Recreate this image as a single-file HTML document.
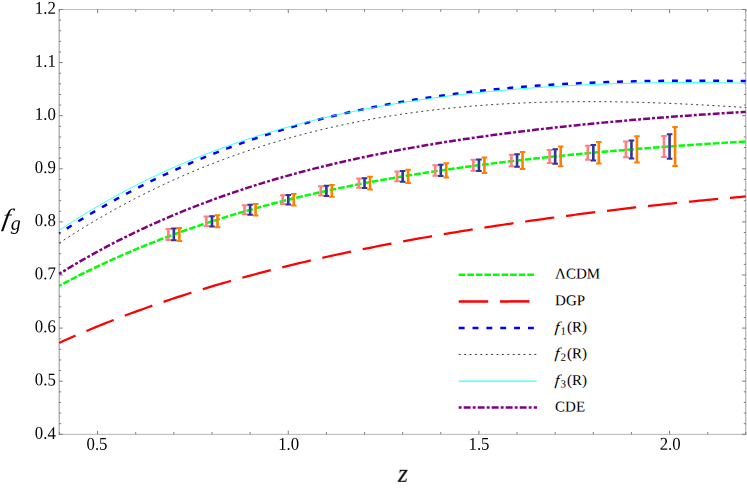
<!DOCTYPE html>
<html><head><meta charset="utf-8"><title>Growth rate f_g vs z</title>
<style>html,body{margin:0;padding:0;background:#fff}body{width:747px;height:489px;overflow:hidden;font-family:"Liberation Serif",serif}svg{display:block}</style>
</head><body>
<svg width="747" height="489" viewBox="0 0 747 489">
<rect width="747" height="489" fill="#fff"/>
<defs><clipPath id="c"><rect x="58.35" y="9.5" width="688.25" height="424.86"/></clipPath></defs>
<g stroke-width="1" fill="none">
<path d="M59.15,9.0V434.86" stroke="#919191"/>
<path d="M745.8,9.0V434.86" stroke="#a0a0a0"/>
<path d="M58.65,9.5H746.3" stroke="#bcbcbc"/>
<path d="M58.65,434.36H746.3" stroke="#b6b6b6"/>
<path d="M59.45,434.36v-2.3M59.45,9.5v2.3M97.58,434.36v-3.6M97.58,9.5v3.6M135.72,434.36v-2.3M135.72,9.5v2.3M173.85,434.36v-2.3M173.85,9.5v2.3M211.98,434.36v-2.3M211.98,9.5v2.3M250.12,434.36v-2.3M250.12,9.5v2.3M288.25,434.36v-3.6M288.25,9.5v3.6M326.38,434.36v-2.3M326.38,9.5v2.3M364.52,434.36v-2.3M364.52,9.5v2.3M402.65,434.36v-2.3M402.65,9.5v2.3M440.78,434.36v-2.3M440.78,9.5v2.3M478.92,434.36v-3.6M478.92,9.5v3.6M517.05,434.36v-2.3M517.05,9.5v2.3M555.18,434.36v-2.3M555.18,9.5v2.3M593.32,434.36v-2.3M593.32,9.5v2.3M631.45,434.36v-2.3M631.45,9.5v2.3M669.58,434.36v-3.6M669.58,9.5v3.6M707.72,434.36v-2.3M707.72,9.5v2.3M745.85,434.36v-2.3M745.85,9.5v2.3M59.15,434.30h3.7M745.8,434.30h-3.7M59.15,423.68h2.0M745.8,423.68h-2.0M59.15,413.06h2.0M745.8,413.06h-2.0M59.15,402.44h2.0M745.8,402.44h-2.0M59.15,391.82h2.0M745.8,391.82h-2.0M59.15,381.20h3.7M745.8,381.20h-3.7M59.15,370.58h2.0M745.8,370.58h-2.0M59.15,359.96h2.0M745.8,359.96h-2.0M59.15,349.34h2.0M745.8,349.34h-2.0M59.15,338.72h2.0M745.8,338.72h-2.0M59.15,328.10h3.7M745.8,328.10h-3.7M59.15,317.48h2.0M745.8,317.48h-2.0M59.15,306.86h2.0M745.8,306.86h-2.0M59.15,296.24h2.0M745.8,296.24h-2.0M59.15,285.62h2.0M745.8,285.62h-2.0M59.15,275.00h3.7M745.8,275.00h-3.7M59.15,264.38h2.0M745.8,264.38h-2.0M59.15,253.76h2.0M745.8,253.76h-2.0M59.15,243.14h2.0M745.8,243.14h-2.0M59.15,232.52h2.0M745.8,232.52h-2.0M59.15,221.90h3.7M745.8,221.90h-3.7M59.15,211.28h2.0M745.8,211.28h-2.0M59.15,200.66h2.0M745.8,200.66h-2.0M59.15,190.04h2.0M745.8,190.04h-2.0M59.15,179.42h2.0M745.8,179.42h-2.0M59.15,168.80h3.7M745.8,168.80h-3.7M59.15,158.18h2.0M745.8,158.18h-2.0M59.15,147.56h2.0M745.8,147.56h-2.0M59.15,136.94h2.0M745.8,136.94h-2.0M59.15,126.32h2.0M745.8,126.32h-2.0M59.15,115.70h3.7M745.8,115.70h-3.7M59.15,105.08h2.0M745.8,105.08h-2.0M59.15,94.46h2.0M745.8,94.46h-2.0M59.15,83.84h2.0M745.8,83.84h-2.0M59.15,73.22h2.0M745.8,73.22h-2.0M59.15,62.60h3.7M745.8,62.60h-3.7M59.15,51.98h2.0M745.8,51.98h-2.0M59.15,41.36h2.0M745.8,41.36h-2.0M59.15,30.74h2.0M745.8,30.74h-2.0M59.15,20.12h2.0M745.8,20.12h-2.0M59.15,9.50h3.7M745.8,9.50h-3.7" stroke="#7a7a7a"/>
</g>
<g clip-path="url(#c)" fill="none">
<path d="M59.15,285.86 L63.15,283.72 L67.15,281.61 L71.15,279.52 L75.15,277.47 L79.15,275.43 L83.15,273.43 L87.15,271.45 L91.15,269.50 L95.15,267.57 L99.15,265.67 L103.15,263.79 L107.15,261.93 L111.15,260.11 L115.15,258.30 L119.15,256.52 L123.15,254.77 L127.15,253.03 L131.15,251.32 L135.15,249.64 L139.15,247.97 L143.15,246.33 L147.15,244.71 L151.15,243.11 L155.15,241.53 L159.15,239.98 L163.15,238.44 L167.15,236.93 L171.15,235.43 L175.15,233.96 L179.15,232.51 L183.15,231.07 L187.15,229.66 L191.15,228.27 L195.15,226.89 L199.15,225.53 L203.15,224.20 L207.15,222.88 L211.15,221.57 L215.15,220.29 L219.15,219.02 L223.15,217.78 L227.15,216.54 L231.15,215.33 L235.15,214.13 L239.15,212.95 L243.15,211.79 L247.15,210.64 L251.15,209.50 L255.15,208.39 L259.15,207.29 L263.15,206.20 L267.15,205.13 L271.15,204.07 L275.15,203.03 L279.15,202.00 L283.15,200.99 L287.15,199.99 L291.15,199.00 L295.15,198.03 L299.15,197.07 L303.15,196.13 L307.15,195.20 L311.15,194.28 L315.15,193.37 L319.15,192.48 L323.15,191.60 L327.15,190.73 L331.15,189.87 L335.15,189.03 L339.15,188.19 L343.15,187.37 L347.15,186.56 L351.15,185.76 L355.15,184.97 L359.15,184.19 L363.15,183.43 L367.15,182.67 L371.15,181.92 L375.15,181.19 L379.15,180.46 L383.15,179.75 L387.15,179.04 L391.15,178.34 L395.15,177.66 L399.15,176.98 L403.15,176.31 L407.15,175.65 L411.15,175.00 L415.15,174.35 L419.15,173.72 L423.15,173.09 L427.15,172.48 L431.15,171.87 L435.15,171.27 L439.15,170.67 L443.15,170.09 L447.15,169.51 L451.15,168.94 L455.15,168.38 L459.15,167.82 L463.15,167.27 L467.15,166.73 L471.15,166.20 L475.15,165.67 L479.15,165.15 L483.15,164.63 L487.15,164.12 L491.15,163.62 L495.15,163.13 L499.15,162.64 L503.15,162.16 L507.15,161.68 L511.15,161.21 L515.15,160.74 L519.15,160.28 L523.15,159.83 L527.15,159.38 L531.15,158.94 L535.15,158.50 L539.15,158.07 L543.15,157.64 L547.15,157.22 L551.15,156.80 L555.15,156.39 L559.15,155.99 L563.15,155.58 L567.15,155.19 L571.15,154.79 L575.15,154.41 L579.15,154.02 L583.15,153.64 L587.15,153.27 L591.15,152.90 L595.15,152.53 L599.15,152.17 L603.15,151.82 L607.15,151.46 L611.15,151.11 L615.15,150.77 L619.15,150.43 L623.15,150.09 L627.15,149.76 L631.15,149.43 L635.15,149.10 L639.15,148.78 L643.15,148.46 L647.15,148.15 L651.15,147.84 L655.15,147.53 L659.15,147.23 L663.15,146.93 L667.15,146.64 L671.15,146.34 L675.15,146.05 L679.15,145.77 L683.15,145.49 L687.15,145.21 L691.15,144.94 L695.15,144.66 L699.15,144.40 L703.15,144.13 L707.15,143.87 L711.15,143.62 L715.15,143.36 L719.15,143.11 L723.15,142.86 L727.15,142.62 L731.15,142.38 L735.15,142.14 L739.15,141.91 L743.15,141.68 L745.80,141.53" stroke="#00ff00" stroke-width="2.4" stroke-dasharray="6.6 1.984" stroke-dashoffset="3.84"/>
<path d="M59.15,342.91 L63.15,341.10 L67.15,339.32 L71.15,337.56 L75.15,335.81 L79.15,334.09 L83.15,332.38 L87.15,330.69 L91.15,329.02 L95.15,327.37 L99.15,325.74 L103.15,324.13 L107.15,322.53 L111.15,320.95 L115.15,319.39 L119.15,317.85 L123.15,316.32 L127.15,314.81 L131.15,313.32 L135.15,311.84 L139.15,310.38 L143.15,308.94 L147.15,307.51 L151.15,306.09 L155.15,304.69 L159.15,303.31 L163.15,301.94 L167.15,300.59 L171.15,299.25 L175.15,297.93 L179.15,296.62 L183.15,295.33 L187.15,294.04 L191.15,292.78 L195.15,291.52 L199.15,290.28 L203.15,289.06 L207.15,287.84 L211.15,286.64 L215.15,285.45 L219.15,284.28 L223.15,283.12 L227.15,281.97 L231.15,280.83 L235.15,279.70 L239.15,278.59 L243.15,277.48 L247.15,276.39 L251.15,275.31 L255.15,274.24 L259.15,273.19 L263.15,272.14 L267.15,271.10 L271.15,270.08 L275.15,269.06 L279.15,268.06 L283.15,267.07 L287.15,266.08 L291.15,265.11 L295.15,264.15 L299.15,263.19 L303.15,262.25 L307.15,261.31 L311.15,260.38 L315.15,259.47 L319.15,258.56 L323.15,257.66 L327.15,256.77 L331.15,255.89 L335.15,255.02 L339.15,254.15 L343.15,253.30 L347.15,252.45 L351.15,251.61 L355.15,250.78 L359.15,249.95 L363.15,249.14 L367.15,248.33 L371.15,247.53 L375.15,246.73 L379.15,245.95 L383.15,245.17 L387.15,244.40 L391.15,243.63 L395.15,242.88 L399.15,242.13 L403.15,241.38 L407.15,240.65 L411.15,239.91 L415.15,239.19 L419.15,238.47 L423.15,237.76 L427.15,237.06 L431.15,236.36 L435.15,235.67 L439.15,234.98 L443.15,234.30 L447.15,233.62 L451.15,232.95 L455.15,232.29 L459.15,231.63 L463.15,230.98 L467.15,230.33 L471.15,229.69 L475.15,229.06 L479.15,228.43 L483.15,227.80 L487.15,227.18 L491.15,226.57 L495.15,225.96 L499.15,225.35 L503.15,224.75 L507.15,224.16 L511.15,223.57 L515.15,222.98 L519.15,222.40 L523.15,221.83 L527.15,221.26 L531.15,220.69 L535.15,220.13 L539.15,219.57 L543.15,219.02 L547.15,218.47 L551.15,217.92 L555.15,217.38 L559.15,216.85 L563.15,216.32 L567.15,215.79 L571.15,215.27 L575.15,214.75 L579.15,214.24 L583.15,213.73 L587.15,213.22 L591.15,212.72 L595.15,212.23 L599.15,211.73 L603.15,211.24 L607.15,210.76 L611.15,210.28 L615.15,209.80 L619.15,209.33 L623.15,208.86 L627.15,208.40 L631.15,207.94 L635.15,207.48 L639.15,207.03 L643.15,206.58 L647.15,206.14 L651.15,205.69 L655.15,205.26 L659.15,204.83 L663.15,204.40 L667.15,203.97 L671.15,203.55 L675.15,203.14 L679.15,202.73 L683.15,202.32 L687.15,201.92 L691.15,201.52 L695.15,201.12 L699.15,200.73 L703.15,200.34 L707.15,199.96 L711.15,199.58 L715.15,199.21 L719.15,198.84 L723.15,198.47 L727.15,198.11 L731.15,197.76 L735.15,197.41 L739.15,197.06 L743.15,196.71 L745.80,196.49" stroke="#ff0000" stroke-width="2.25" stroke-dasharray="29.35 11.875" stroke-dashoffset="11.45"/>
<path d="M59.15,233.49 L63.15,230.90 L67.15,228.33 L71.15,225.79 L75.15,223.28 L79.15,220.80 L83.15,218.36 L87.15,215.94 L91.15,213.55 L95.15,211.19 L99.15,208.87 L103.15,206.57 L107.15,204.29 L111.15,202.05 L115.15,199.84 L119.15,197.65 L123.15,195.49 L127.15,193.36 L131.15,191.26 L135.15,189.18 L139.15,187.13 L143.15,185.11 L147.15,183.11 L151.15,181.14 L155.15,179.20 L159.15,177.28 L163.15,175.39 L167.15,173.52 L171.15,171.68 L175.15,169.87 L179.15,168.08 L183.15,166.31 L187.15,164.57 L191.15,162.85 L195.15,161.16 L199.15,159.49 L203.15,157.84 L207.15,156.22 L211.15,154.62 L215.15,153.05 L219.15,151.49 L223.15,149.96 L227.15,148.45 L231.15,146.97 L235.15,145.51 L239.15,144.07 L243.15,142.65 L247.15,141.25 L251.15,139.87 L255.15,138.52 L259.15,137.18 L263.15,135.87 L267.15,134.58 L271.15,133.30 L275.15,132.05 L279.15,130.82 L283.15,129.61 L287.15,128.42 L291.15,127.24 L295.15,126.09 L299.15,124.95 L303.15,123.84 L307.15,122.74 L311.15,121.66 L315.15,120.60 L319.15,119.56 L323.15,118.54 L327.15,117.53 L331.15,116.55 L335.15,115.58 L339.15,114.62 L343.15,113.69 L347.15,112.77 L351.15,111.87 L355.15,110.98 L359.15,110.12 L363.15,109.26 L367.15,108.43 L371.15,107.61 L375.15,106.80 L379.15,106.02 L383.15,105.24 L387.15,104.49 L391.15,103.74 L395.15,103.02 L399.15,102.31 L403.15,101.61 L407.15,100.93 L411.15,100.26 L415.15,99.60 L419.15,98.96 L423.15,98.34 L427.15,97.72 L431.15,97.13 L435.15,96.54 L439.15,95.97 L443.15,95.41 L447.15,94.86 L451.15,94.33 L455.15,93.81 L459.15,93.30 L463.15,92.81 L467.15,92.33 L471.15,91.86 L475.15,91.40 L479.15,90.95 L483.15,90.52 L487.15,90.09 L491.15,89.68 L495.15,89.28 L499.15,88.89 L503.15,88.51 L507.15,88.14 L511.15,87.78 L515.15,87.44 L519.15,87.10 L523.15,86.78 L527.15,86.46 L531.15,86.15 L535.15,85.86 L539.15,85.57 L543.15,85.30 L547.15,85.03 L551.15,84.77 L555.15,84.52 L559.15,84.28 L563.15,84.05 L567.15,83.83 L571.15,83.62 L575.15,83.41 L579.15,83.22 L583.15,83.03 L587.15,82.85 L591.15,82.68 L595.15,82.52 L599.15,82.36 L603.15,82.21 L607.15,82.07 L611.15,81.94 L615.15,81.81 L619.15,81.70 L623.15,81.59 L627.15,81.48 L631.15,81.39 L635.15,81.29 L639.15,81.21 L643.15,81.13 L647.15,81.06 L651.15,81.00 L655.15,80.94 L659.15,80.89 L663.15,80.84 L667.15,80.80 L671.15,80.77 L675.15,80.74 L679.15,80.72 L683.15,80.70 L687.15,80.69 L691.15,80.68 L695.15,80.68 L699.15,80.68 L703.15,80.69 L707.15,80.71 L711.15,80.72 L715.15,80.75 L719.15,80.77 L723.15,80.81 L727.15,80.84 L731.15,80.88 L735.15,80.93 L739.15,80.97 L743.15,81.03 L745.80,81.06" stroke="#0000ff" stroke-width="2.5" stroke-dasharray="5.9 7.84" stroke-dashoffset="4.75"/>
<path d="M59.15,243.09 L63.15,240.47 L67.15,237.88 L71.15,235.33 L75.15,232.80 L79.15,230.31 L83.15,227.85 L87.15,225.41 L91.15,223.01 L95.15,220.64 L99.15,218.30 L103.15,215.99 L107.15,213.70 L111.15,211.45 L115.15,209.23 L119.15,207.03 L123.15,204.87 L127.15,202.73 L131.15,200.62 L135.15,198.54 L139.15,196.49 L143.15,194.46 L147.15,192.47 L151.15,190.50 L155.15,188.56 L159.15,186.64 L163.15,184.76 L167.15,182.89 L171.15,181.06 L175.15,179.25 L179.15,177.47 L183.15,175.72 L187.15,173.99 L191.15,172.28 L195.15,170.60 L199.15,168.95 L203.15,167.32 L207.15,165.72 L211.15,164.14 L215.15,162.59 L219.15,161.06 L223.15,159.55 L227.15,158.07 L231.15,156.61 L235.15,155.18 L239.15,153.77 L243.15,152.38 L247.15,151.02 L251.15,149.68 L255.15,148.36 L259.15,147.06 L263.15,145.79 L267.15,144.54 L271.15,143.31 L275.15,142.10 L279.15,140.92 L283.15,139.76 L287.15,138.61 L291.15,137.49 L295.15,136.39 L299.15,135.31 L303.15,134.25 L307.15,133.21 L311.15,132.20 L315.15,131.20 L319.15,130.22 L323.15,129.26 L327.15,128.32 L331.15,127.40 L335.15,126.50 L339.15,125.62 L343.15,124.76 L347.15,123.92 L351.15,123.09 L355.15,122.29 L359.15,121.50 L363.15,120.73 L367.15,119.98 L371.15,119.24 L375.15,118.53 L379.15,117.83 L383.15,117.15 L387.15,116.48 L391.15,115.84 L395.15,115.21 L399.15,114.59 L403.15,113.99 L407.15,113.41 L411.15,112.85 L415.15,112.30 L419.15,111.77 L423.15,111.25 L427.15,110.75 L431.15,110.26 L435.15,109.79 L439.15,109.33 L443.15,108.89 L447.15,108.46 L451.15,108.05 L455.15,107.65 L459.15,107.27 L463.15,106.90 L467.15,106.54 L471.15,106.20 L475.15,105.87 L479.15,105.56 L483.15,105.26 L487.15,104.97 L491.15,104.69 L495.15,104.43 L499.15,104.18 L503.15,103.95 L507.15,103.72 L511.15,103.51 L515.15,103.31 L519.15,103.12 L523.15,102.95 L527.15,102.78 L531.15,102.63 L535.15,102.49 L539.15,102.36 L543.15,102.24 L547.15,102.13 L551.15,102.03 L555.15,101.95 L559.15,101.87 L563.15,101.80 L567.15,101.75 L571.15,101.70 L575.15,101.67 L579.15,101.64 L583.15,101.63 L587.15,101.62 L591.15,101.62 L595.15,101.63 L599.15,101.66 L603.15,101.69 L607.15,101.72 L611.15,101.77 L615.15,101.83 L619.15,101.89 L623.15,101.97 L627.15,102.05 L631.15,102.14 L635.15,102.23 L639.15,102.34 L643.15,102.45 L647.15,102.57 L651.15,102.70 L655.15,102.83 L659.15,102.98 L663.15,103.12 L667.15,103.28 L671.15,103.44 L675.15,103.61 L679.15,103.79 L683.15,103.97 L687.15,104.16 L691.15,104.35 L695.15,104.55 L699.15,104.75 L703.15,104.96 L707.15,105.18 L711.15,105.40 L715.15,105.63 L719.15,105.86 L723.15,106.10 L727.15,106.34 L731.15,106.59 L735.15,106.84 L739.15,107.10 L743.15,107.36 L745.80,107.53" stroke="#1a1a1a" stroke-width="0.85" stroke-dasharray="2 3.4"/>
<path d="M59.15,230.43 L63.15,227.77 L67.15,225.14 L71.15,222.55 L75.15,220.00 L79.15,217.48 L83.15,214.99 L87.15,212.55 L91.15,210.13 L95.15,207.75 L99.15,205.41 L103.15,203.10 L107.15,200.82 L111.15,198.57 L115.15,196.36 L119.15,194.18 L123.15,192.03 L127.15,189.91 L131.15,187.82 L135.15,185.76 L139.15,183.74 L143.15,181.74 L147.15,179.77 L151.15,177.84 L155.15,175.93 L159.15,174.05 L163.15,172.20 L167.15,170.38 L171.15,168.58 L175.15,166.81 L179.15,165.07 L183.15,163.36 L187.15,161.67 L191.15,160.01 L195.15,158.38 L199.15,156.77 L203.15,155.19 L207.15,153.63 L211.15,152.09 L215.15,150.58 L219.15,149.10 L223.15,147.64 L227.15,146.20 L231.15,144.79 L235.15,143.40 L239.15,142.03 L243.15,140.68 L247.15,139.36 L251.15,138.06 L255.15,136.78 L259.15,135.52 L263.15,134.28 L267.15,133.06 L271.15,131.87 L275.15,130.69 L279.15,129.54 L283.15,128.40 L287.15,127.29 L291.15,126.19 L295.15,125.11 L299.15,124.06 L303.15,123.02 L307.15,122.00 L311.15,120.99 L315.15,120.01 L319.15,119.04 L323.15,118.09 L327.15,117.16 L331.15,116.24 L335.15,115.35 L339.15,114.46 L343.15,113.60 L347.15,112.75 L351.15,111.92 L355.15,111.10 L359.15,110.30 L363.15,109.51 L367.15,108.74 L371.15,107.98 L375.15,107.24 L379.15,106.51 L383.15,105.80 L387.15,105.10 L391.15,104.42 L395.15,103.75 L399.15,103.09 L403.15,102.45 L407.15,101.82 L411.15,101.20 L415.15,100.60 L419.15,100.01 L423.15,99.43 L427.15,98.86 L431.15,98.31 L435.15,97.76 L439.15,97.23 L443.15,96.72 L447.15,96.21 L451.15,95.71 L455.15,95.23 L459.15,94.76 L463.15,94.30 L467.15,93.85 L471.15,93.40 L475.15,92.98 L479.15,92.56 L483.15,92.15 L487.15,91.75 L491.15,91.36 L495.15,90.98 L499.15,90.61 L503.15,90.25 L507.15,89.90 L511.15,89.56 L515.15,89.23 L519.15,88.91 L523.15,88.60 L527.15,88.30 L531.15,88.00 L535.15,87.71 L539.15,87.44 L543.15,87.17 L547.15,86.91 L551.15,86.66 L555.15,86.41 L559.15,86.18 L563.15,85.95 L567.15,85.73 L571.15,85.52 L575.15,85.32 L579.15,85.12 L583.15,84.93 L587.15,84.75 L591.15,84.58 L595.15,84.42 L599.15,84.26 L603.15,84.11 L607.15,83.96 L611.15,83.83 L615.15,83.70 L619.15,83.58 L623.15,83.46 L627.15,83.36 L631.15,83.26 L635.15,83.16 L639.15,83.08 L643.15,83.00 L647.15,82.92 L651.15,82.86 L655.15,82.80 L659.15,82.74 L663.15,82.70 L667.15,82.66 L671.15,82.62 L675.15,82.60 L679.15,82.58 L683.15,82.56 L687.15,82.56 L691.15,82.56 L695.15,82.56 L699.15,82.58 L703.15,82.60 L707.15,82.62 L711.15,82.65 L715.15,82.69 L719.15,82.74 L723.15,82.79 L727.15,82.85 L731.15,82.91 L735.15,82.98 L739.15,83.06 L743.15,83.14 L745.80,83.20" stroke="#00ffff" stroke-width="0.78"/>
<path d="M59.15,273.88 L63.15,271.42 L67.15,269.00 L71.15,266.60 L75.15,264.24 L79.15,261.91 L83.15,259.61 L87.15,257.34 L91.15,255.10 L95.15,252.89 L99.15,250.71 L103.15,248.56 L107.15,246.43 L111.15,244.34 L115.15,242.27 L119.15,240.23 L123.15,238.22 L127.15,236.24 L131.15,234.28 L135.15,232.35 L139.15,230.45 L143.15,228.57 L147.15,226.72 L151.15,224.89 L155.15,223.09 L159.15,221.31 L163.15,219.56 L167.15,217.83 L171.15,216.13 L175.15,214.45 L179.15,212.79 L183.15,211.15 L187.15,209.54 L191.15,207.95 L195.15,206.39 L199.15,204.84 L203.15,203.32 L207.15,201.81 L211.15,200.33 L215.15,198.87 L219.15,197.43 L223.15,196.01 L227.15,194.62 L231.15,193.24 L235.15,191.88 L239.15,190.54 L243.15,189.21 L247.15,187.91 L251.15,186.63 L255.15,185.36 L259.15,184.11 L263.15,182.88 L267.15,181.67 L271.15,180.48 L275.15,179.30 L279.15,178.14 L283.15,176.99 L287.15,175.86 L291.15,174.75 L295.15,173.66 L299.15,172.57 L303.15,171.51 L307.15,170.46 L311.15,169.43 L315.15,168.41 L319.15,167.40 L323.15,166.41 L327.15,165.43 L331.15,164.47 L335.15,163.52 L339.15,162.59 L343.15,161.67 L347.15,160.76 L351.15,159.86 L355.15,158.98 L359.15,158.11 L363.15,157.25 L367.15,156.41 L371.15,155.58 L375.15,154.75 L379.15,153.95 L383.15,153.15 L387.15,152.36 L391.15,151.59 L395.15,150.82 L399.15,150.07 L403.15,149.32 L407.15,148.59 L411.15,147.87 L415.15,147.16 L419.15,146.46 L423.15,145.76 L427.15,145.08 L431.15,144.41 L435.15,143.74 L439.15,143.09 L443.15,142.44 L447.15,141.81 L451.15,141.18 L455.15,140.56 L459.15,139.95 L463.15,139.35 L467.15,138.76 L471.15,138.17 L475.15,137.59 L479.15,137.02 L483.15,136.46 L487.15,135.90 L491.15,135.36 L495.15,134.82 L499.15,134.29 L503.15,133.76 L507.15,133.24 L511.15,132.73 L515.15,132.22 L519.15,131.73 L523.15,131.23 L527.15,130.75 L531.15,130.27 L535.15,129.80 L539.15,129.33 L543.15,128.87 L547.15,128.42 L551.15,127.97 L555.15,127.52 L559.15,127.09 L563.15,126.66 L567.15,126.23 L571.15,125.81 L575.15,125.39 L579.15,124.98 L583.15,124.58 L587.15,124.18 L591.15,123.78 L595.15,123.39 L599.15,123.01 L603.15,122.63 L607.15,122.25 L611.15,121.88 L615.15,121.52 L619.15,121.16 L623.15,120.80 L627.15,120.45 L631.15,120.10 L635.15,119.76 L639.15,119.42 L643.15,119.08 L647.15,118.75 L651.15,118.43 L655.15,118.10 L659.15,117.79 L663.15,117.47 L667.15,117.16 L671.15,116.86 L675.15,116.56 L679.15,116.26 L683.15,115.97 L687.15,115.68 L691.15,115.39 L695.15,115.11 L699.15,114.83 L703.15,114.56 L707.15,114.29 L711.15,114.02 L715.15,113.76 L719.15,113.50 L723.15,113.25 L727.15,113.00 L731.15,112.75 L735.15,112.51 L739.15,112.27 L743.15,112.03 L745.80,111.88" stroke="#800080" stroke-width="2.5" stroke-dasharray="2.9 2.09 6.88 2.088" stroke-dashoffset="9.11"/>
</g>
<g fill="none">
<path d="M168.25,228.64V240.24" stroke="#ff8080" stroke-width="2.6"/>
<path d="M165.45,228.99H171.05M165.45,239.89H171.05" stroke="#ff8080" stroke-width="2.0"/>
<path d="M173.85,228.19V240.69" stroke="#333399" stroke-width="2.6"/>
<path d="M171.05,228.54H176.65M171.05,240.34H176.65" stroke="#333399" stroke-width="2.0"/>
<path d="M179.35,227.54V241.34" stroke="#ff8000" stroke-width="2.6"/>
<path d="M176.55,227.89H182.15M176.55,240.99H182.15" stroke="#ff8000" stroke-width="2.0"/>
<path d="M206.38,216.21V226.41" stroke="#ff8080" stroke-width="2.6"/>
<path d="M203.58,216.56H209.18M203.58,226.06H209.18" stroke="#ff8080" stroke-width="2.0"/>
<path d="M211.98,215.81V226.81" stroke="#333399" stroke-width="2.6"/>
<path d="M209.18,216.16H214.78M209.18,226.46H214.78" stroke="#333399" stroke-width="2.0"/>
<path d="M217.48,214.91V227.71" stroke="#ff8000" stroke-width="2.6"/>
<path d="M214.68,215.26H220.28M214.68,227.36H220.28" stroke="#ff8000" stroke-width="2.0"/>
<path d="M244.52,204.95V214.65" stroke="#ff8080" stroke-width="2.6"/>
<path d="M241.72,205.30H247.32M241.72,214.30H247.32" stroke="#ff8080" stroke-width="2.0"/>
<path d="M250.12,204.50V215.10" stroke="#333399" stroke-width="2.6"/>
<path d="M247.32,204.85H252.92M247.32,214.75H252.92" stroke="#333399" stroke-width="2.0"/>
<path d="M255.62,203.70V215.90" stroke="#ff8000" stroke-width="2.6"/>
<path d="M252.82,204.05H258.42M252.82,215.55H258.42" stroke="#ff8000" stroke-width="2.0"/>
<path d="M282.65,194.97V204.47" stroke="#ff8080" stroke-width="2.6"/>
<path d="M279.85,195.32H285.45M279.85,204.12H285.45" stroke="#ff8080" stroke-width="2.0"/>
<path d="M288.25,194.57V204.87" stroke="#333399" stroke-width="2.6"/>
<path d="M285.45,194.92H291.05M285.45,204.52H291.05" stroke="#333399" stroke-width="2.0"/>
<path d="M293.75,193.62V205.82" stroke="#ff8000" stroke-width="2.6"/>
<path d="M290.95,193.97H296.55M290.95,205.47H296.55" stroke="#ff8000" stroke-width="2.0"/>
<path d="M320.78,186.00V195.80" stroke="#ff8080" stroke-width="2.6"/>
<path d="M317.98,186.35H323.58M317.98,195.45H323.58" stroke="#ff8080" stroke-width="2.0"/>
<path d="M326.38,185.40V196.40" stroke="#333399" stroke-width="2.6"/>
<path d="M323.58,185.75H329.18M323.58,196.05H329.18" stroke="#333399" stroke-width="2.0"/>
<path d="M331.88,184.60V197.20" stroke="#ff8000" stroke-width="2.6"/>
<path d="M329.08,184.95H334.68M329.08,196.85H334.68" stroke="#ff8000" stroke-width="2.0"/>
<path d="M358.92,178.27V188.07" stroke="#ff8080" stroke-width="2.6"/>
<path d="M356.12,178.62H361.72M356.12,187.72H361.72" stroke="#ff8080" stroke-width="2.0"/>
<path d="M364.52,177.87V188.47" stroke="#333399" stroke-width="2.6"/>
<path d="M361.72,178.22H367.32M361.72,188.12H367.32" stroke="#333399" stroke-width="2.0"/>
<path d="M370.02,176.52V189.82" stroke="#ff8000" stroke-width="2.6"/>
<path d="M367.22,176.87H372.82M367.22,189.47H372.82" stroke="#ff8000" stroke-width="2.0"/>
<path d="M397.05,171.19V181.59" stroke="#ff8080" stroke-width="2.6"/>
<path d="M394.25,171.54H399.85M394.25,181.24H399.85" stroke="#ff8080" stroke-width="2.0"/>
<path d="M402.65,170.74V182.04" stroke="#333399" stroke-width="2.6"/>
<path d="M399.85,171.09H405.45M399.85,181.69H405.45" stroke="#333399" stroke-width="2.0"/>
<path d="M408.15,169.39V183.39" stroke="#ff8000" stroke-width="2.6"/>
<path d="M405.35,169.74H410.95M405.35,183.04H410.95" stroke="#ff8000" stroke-width="2.0"/>
<path d="M435.18,164.88V175.98" stroke="#ff8080" stroke-width="2.6"/>
<path d="M432.38,165.23H437.98M432.38,175.63H437.98" stroke="#ff8080" stroke-width="2.0"/>
<path d="M440.78,164.43V176.43" stroke="#333399" stroke-width="2.6"/>
<path d="M437.98,164.78H443.58M437.98,176.08H443.58" stroke="#333399" stroke-width="2.0"/>
<path d="M446.28,162.93V177.93" stroke="#ff8000" stroke-width="2.6"/>
<path d="M443.48,163.28H449.08M443.48,177.58H449.08" stroke="#ff8000" stroke-width="2.0"/>
<path d="M473.32,159.38V170.98" stroke="#ff8080" stroke-width="2.6"/>
<path d="M470.52,159.73H476.12M470.52,170.63H476.12" stroke="#ff8080" stroke-width="2.0"/>
<path d="M478.92,159.08V171.28" stroke="#333399" stroke-width="2.6"/>
<path d="M476.12,159.43H481.72M476.12,170.93H481.72" stroke="#333399" stroke-width="2.0"/>
<path d="M484.42,157.08V173.28" stroke="#ff8000" stroke-width="2.6"/>
<path d="M481.62,157.43H487.22M481.62,172.93H487.22" stroke="#ff8000" stroke-width="2.0"/>
<path d="M511.45,154.32V166.72" stroke="#ff8080" stroke-width="2.6"/>
<path d="M508.65,154.67H514.25M508.65,166.37H514.25" stroke="#ff8080" stroke-width="2.0"/>
<path d="M517.05,153.87V167.17" stroke="#333399" stroke-width="2.6"/>
<path d="M514.25,154.22H519.85M514.25,166.82H519.85" stroke="#333399" stroke-width="2.0"/>
<path d="M522.55,151.57V169.47" stroke="#ff8000" stroke-width="2.6"/>
<path d="M519.75,151.92H525.35M519.75,169.12H525.35" stroke="#ff8000" stroke-width="2.0"/>
<path d="M549.58,149.54V163.24" stroke="#ff8080" stroke-width="2.6"/>
<path d="M546.78,149.89H552.38M546.78,162.89H552.38" stroke="#ff8080" stroke-width="2.0"/>
<path d="M555.18,148.79V163.99" stroke="#333399" stroke-width="2.6"/>
<path d="M552.38,149.14H557.98M552.38,163.64H557.98" stroke="#333399" stroke-width="2.0"/>
<path d="M560.68,146.09V166.69" stroke="#ff8000" stroke-width="2.6"/>
<path d="M557.88,146.44H563.48M557.88,166.34H563.48" stroke="#ff8000" stroke-width="2.0"/>
<path d="M587.72,145.40V160.00" stroke="#ff8080" stroke-width="2.6"/>
<path d="M584.92,145.75H590.52M584.92,159.65H590.52" stroke="#ff8080" stroke-width="2.0"/>
<path d="M593.32,144.60V160.80" stroke="#333399" stroke-width="2.6"/>
<path d="M590.52,144.95H596.12M590.52,160.45H596.12" stroke="#333399" stroke-width="2.0"/>
<path d="M598.82,141.65V163.75" stroke="#ff8000" stroke-width="2.6"/>
<path d="M596.02,142.00H601.62M596.02,163.40H601.62" stroke="#ff8000" stroke-width="2.0"/>
<path d="M625.85,141.15V157.65" stroke="#ff8080" stroke-width="2.6"/>
<path d="M623.05,141.50H628.65M623.05,157.30H628.65" stroke="#ff8080" stroke-width="2.0"/>
<path d="M631.45,140.05V158.75" stroke="#333399" stroke-width="2.6"/>
<path d="M628.65,140.40H634.25M628.65,158.40H634.25" stroke="#333399" stroke-width="2.0"/>
<path d="M636.95,135.90V162.90" stroke="#ff8000" stroke-width="2.6"/>
<path d="M634.15,136.25H639.75M634.15,162.55H639.75" stroke="#ff8000" stroke-width="2.0"/>
<path d="M663.98,135.66V157.26" stroke="#ff8080" stroke-width="2.6"/>
<path d="M661.18,136.01H666.78M661.18,156.91H666.78" stroke="#ff8080" stroke-width="2.0"/>
<path d="M669.58,133.86V159.06" stroke="#333399" stroke-width="2.6"/>
<path d="M666.78,134.21H672.38M666.78,158.71H672.38" stroke="#333399" stroke-width="2.0"/>
<path d="M675.08,126.56V166.36" stroke="#ff8000" stroke-width="2.6"/>
<path d="M672.28,126.91H677.88M672.28,166.01H677.88" stroke="#ff8000" stroke-width="2.0"/>
</g>
<path clip-path="url(#c)" fill="none" d="M59.15,285.86 L63.15,283.72 L67.15,281.61 L71.15,279.52 L75.15,277.47 L79.15,275.43 L83.15,273.43 L87.15,271.45 L91.15,269.50 L95.15,267.57 L99.15,265.67 L103.15,263.79 L107.15,261.93 L111.15,260.11 L115.15,258.30 L119.15,256.52 L123.15,254.77 L127.15,253.03 L131.15,251.32 L135.15,249.64 L139.15,247.97 L143.15,246.33 L147.15,244.71 L151.15,243.11 L155.15,241.53 L159.15,239.98 L163.15,238.44 L167.15,236.93 L171.15,235.43 L175.15,233.96 L179.15,232.51 L183.15,231.07 L187.15,229.66 L191.15,228.27 L195.15,226.89 L199.15,225.53 L203.15,224.20 L207.15,222.88 L211.15,221.57 L215.15,220.29 L219.15,219.02 L223.15,217.78 L227.15,216.54 L231.15,215.33 L235.15,214.13 L239.15,212.95 L243.15,211.79 L247.15,210.64 L251.15,209.50 L255.15,208.39 L259.15,207.29 L263.15,206.20 L267.15,205.13 L271.15,204.07 L275.15,203.03 L279.15,202.00 L283.15,200.99 L287.15,199.99 L291.15,199.00 L295.15,198.03 L299.15,197.07 L303.15,196.13 L307.15,195.20 L311.15,194.28 L315.15,193.37 L319.15,192.48 L323.15,191.60 L327.15,190.73 L331.15,189.87 L335.15,189.03 L339.15,188.19 L343.15,187.37 L347.15,186.56 L351.15,185.76 L355.15,184.97 L359.15,184.19 L363.15,183.43 L367.15,182.67 L371.15,181.92 L375.15,181.19 L379.15,180.46 L383.15,179.75 L387.15,179.04 L391.15,178.34 L395.15,177.66 L399.15,176.98 L403.15,176.31 L407.15,175.65 L411.15,175.00 L415.15,174.35 L419.15,173.72 L423.15,173.09 L427.15,172.48 L431.15,171.87 L435.15,171.27 L439.15,170.67 L443.15,170.09 L447.15,169.51 L451.15,168.94 L455.15,168.38 L459.15,167.82 L463.15,167.27 L467.15,166.73 L471.15,166.20 L475.15,165.67 L479.15,165.15 L483.15,164.63 L487.15,164.12 L491.15,163.62 L495.15,163.13 L499.15,162.64 L503.15,162.16 L507.15,161.68 L511.15,161.21 L515.15,160.74 L519.15,160.28 L523.15,159.83 L527.15,159.38 L531.15,158.94 L535.15,158.50 L539.15,158.07 L543.15,157.64 L547.15,157.22 L551.15,156.80 L555.15,156.39 L559.15,155.99 L563.15,155.58 L567.15,155.19 L571.15,154.79 L575.15,154.41 L579.15,154.02 L583.15,153.64 L587.15,153.27 L591.15,152.90 L595.15,152.53 L599.15,152.17 L603.15,151.82 L607.15,151.46 L611.15,151.11 L615.15,150.77 L619.15,150.43 L623.15,150.09 L627.15,149.76 L631.15,149.43 L635.15,149.10 L639.15,148.78 L643.15,148.46 L647.15,148.15 L651.15,147.84 L655.15,147.53 L659.15,147.23 L663.15,146.93 L667.15,146.64 L671.15,146.34 L675.15,146.05 L679.15,145.77 L683.15,145.49 L687.15,145.21 L691.15,144.94 L695.15,144.66 L699.15,144.40 L703.15,144.13 L707.15,143.87 L711.15,143.62 L715.15,143.36 L719.15,143.11 L723.15,142.86 L727.15,142.62 L731.15,142.38 L735.15,142.14 L739.15,141.91 L743.15,141.68 L745.80,141.53" stroke="#00ff00" stroke-opacity="0.2" stroke-width="2.4" stroke-dasharray="6.6 1.984" stroke-dashoffset="3.84"/>
<g font-family="Liberation Serif, serif" fill="#000" opacity="0.999" text-rendering="geometricPrecision">
<text transform="translate(55.85,438.90) skewY(0.15) scale(0.935,1)" font-size="18.0" text-anchor="end">0.4</text>
<text transform="translate(55.85,385.40) skewY(0.15) scale(0.935,1)" font-size="18.0" text-anchor="end">0.5</text>
<text transform="translate(55.85,332.30) skewY(0.15) scale(0.935,1)" font-size="18.0" text-anchor="end">0.6</text>
<text transform="translate(55.85,279.20) skewY(0.15) scale(0.935,1)" font-size="18.0" text-anchor="end">0.7</text>
<text transform="translate(55.85,226.10) skewY(0.15) scale(0.935,1)" font-size="18.0" text-anchor="end">0.8</text>
<text transform="translate(55.85,173.00) skewY(0.15) scale(0.935,1)" font-size="18.0" text-anchor="end">0.9</text>
<text transform="translate(55.85,119.90) skewY(0.15) scale(0.935,1)" font-size="18.0" text-anchor="end">1.0</text>
<text transform="translate(55.85,66.80) skewY(0.15) scale(0.935,1)" font-size="18.0" text-anchor="end">1.1</text>
<text transform="translate(55.85,13.70) skewY(0.15) scale(0.935,1)" font-size="18.0" text-anchor="end">1.2</text>
<text transform="translate(96.98,449.7) skewY(0.15) scale(0.935,1)" font-size="18.0" text-anchor="middle">0.5</text>
<text transform="translate(288.65,449.7) skewY(0.15) scale(0.935,1)" font-size="18.0" text-anchor="middle">1.0</text>
<text transform="translate(479.02,449.7) skewY(0.15) scale(0.935,1)" font-size="18.0" text-anchor="middle">1.5</text>
<text transform="translate(670.18,449.7) skewY(0.15) scale(0.935,1)" font-size="18.0" text-anchor="middle">2.0</text>
<text transform="translate(1.5,226.2) skewX(-9) scale(1.12,1)" font-size="25" font-style="italic">f</text>
<text transform="translate(10.7,229.8) skewY(0.15)" font-size="20" font-style="italic">g</text>
<text transform="translate(397.8,481.8) skewY(0.15)" font-size="26" font-style="italic">z</text>
</g>
<g fill="none">
<path d="M458.7,274.7H535.2" stroke="#00ff00" stroke-width="2.4" stroke-dasharray="6.6 1.98"/>
<path d="M458.7,301.4H536.6" stroke="#ff0000" stroke-width="2.5" stroke-dasharray="29.5 11.8"/>
<path d="M458.7,328.0H536.6" stroke="#0000ff" stroke-width="2.5" stroke-dasharray="5.9 7.95"/>
<path d="M458.7,354.45H537.6" stroke="#1a1a1a" stroke-width="0.85" stroke-dasharray="2 3.4"/>
<path d="M458.7,381.1H536.6" stroke="#00ffff" stroke-width="1.0"/>
<path d="M458.7,407.6H537.1" stroke="#800080" stroke-width="2.5" stroke-dasharray="2.9 2.1 6.9 2.1"/>
</g>
<g font-family="Liberation Serif, serif" fill="#000" font-size="15" opacity="0.999" text-rendering="geometricPrecision">
<text transform="translate(555.10,278.50) skewY(0.15)" >&#923;CDM</text>
<text transform="translate(555.10,305.20) skewY(0.15)" >DGP</text>
<text transform="translate(554.5,331.80) skewX(-5) scale(1.08,1)" font-style="italic">f</text>
<text transform="translate(560.50,334.40) skewY(0.15)" font-size="11">1</text>
<text transform="translate(567.10,331.80) skewY(0.15)" >(R)</text>
<text transform="translate(554.5,358.25) skewX(-5) scale(1.08,1)" font-style="italic">f</text>
<text transform="translate(560.50,360.85) skewY(0.15)" font-size="11">2</text>
<text transform="translate(567.10,358.25) skewY(0.15)" >(R)</text>
<text transform="translate(554.5,384.90) skewX(-5) scale(1.08,1)" font-style="italic">f</text>
<text transform="translate(560.50,387.50) skewY(0.15)" font-size="11">3</text>
<text transform="translate(567.10,384.90) skewY(0.15)" >(R)</text>
<text transform="translate(555.10,411.40) skewY(0.15)" >CDE</text>
</g>
</svg>
</body></html>
